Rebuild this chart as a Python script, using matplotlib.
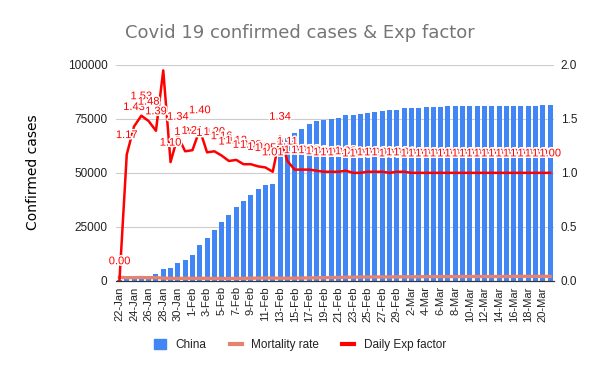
import numpy as np
import pandas as pd
import matplotlib
matplotlib.use("Agg")
import matplotlib.pyplot as plt
import matplotlib.patheffects as pe
from matplotlib.patches import Patch
from matplotlib.lines import Line2D

plt.rcParams['font.family'] = ['Liberation Sans', 'DejaVu Sans']

# ── data (22-Jan .. 21-Mar) ────────────────────────────────
dates = pd.date_range("2020-01-22", "2020-03-21").strftime("%-d-%b").tolist()

china = [548, 643, 920, 1406, 2075, 2877, 5509, 6087, 8141, 9802,
         11891, 16630, 19716, 23707, 27440, 30587, 34110, 36814, 39829, 42354,
         44386, 44759, 59895, 66358, 68413, 70513, 72434, 74211, 74619, 75077,
         75550, 77001, 77022, 77241, 77754, 78166, 78600, 78928, 79356, 79932,
         80136, 80261, 80386, 80537, 80690, 80770, 80823, 80860, 80887, 80921,
         80932, 80945, 80977, 81003, 81033, 81058, 81102, 81156, 81250, 81305]

mortality = [0.031, 0.028, 0.028, 0.030, 0.027, 0.029, 0.024, 0.022, 0.021, 0.022,
             0.022, 0.022, 0.022, 0.021, 0.020, 0.021, 0.021, 0.022, 0.023, 0.024,
             0.025, 0.025, 0.023, 0.023, 0.024, 0.025, 0.026, 0.027, 0.028, 0.030,
             0.030, 0.032, 0.032, 0.034, 0.034, 0.035, 0.035, 0.035, 0.036, 0.036,
             0.036, 0.037, 0.037, 0.037, 0.038, 0.038, 0.038, 0.039, 0.039, 0.039,
             0.039, 0.039, 0.039, 0.039, 0.040, 0.040, 0.040, 0.040, 0.040, 0.040]

exp_factor = [0.00, 1.17, 1.43, 1.53, 1.48, 1.39, 1.95, 1.10, 1.34, 1.20,
              1.21, 1.40, 1.19, 1.20, 1.16, 1.11, 1.12, 1.08, 1.08, 1.06,
              1.05, 1.01, 1.34, 1.11, 1.03, 1.03, 1.03, 1.02, 1.01, 1.01,
              1.01, 1.02, 1.00, 1.00, 1.01, 1.01, 1.01, 1.00, 1.01, 1.01,
              1.00, 1.00, 1.00, 1.00, 1.00, 1.00, 1.00, 1.00, 1.00, 1.00,
              1.00, 1.00, 1.00, 1.00, 1.00, 1.00, 1.00, 1.00, 1.00, 1.00]

left_ticks = [0, 25000, 50000, 75000, 100000]
right_ticks = [0.0, 0.5, 1.0, 1.5, 2.0]

BLUE = "#4285F4"
SALMON = "#E6836F"
RED = "#FF0000"
TXT = "#222222"

x = np.arange(len(dates))

fig = plt.figure(figsize=(6.0, 3.71), dpi=100)
ax = fig.add_axes([0.193, 0.2434, 0.730, 0.5814])
ax2 = ax.twinx()

# 柱状图：确诊人数
ax.bar(x, china, width=0.68, color=BLUE, zorder=2)
ax.set_xlim(-0.5, len(dates) - 0.5)
ax.set_ylim(0, 100000)
ax.set_yticks(left_ticks)
ax.set_yticklabels([str(t) for t in left_ticks])
ax.grid(axis="y", color="#CCCCCC", linewidth=0.8, zorder=0)
ax.set_axisbelow(True)

ax.set_xticks(x[::2])
ax.set_xticklabels(dates[::2], rotation=90)
ax.tick_params(axis="x", length=0, pad=4, labelsize=8, colors=TXT)
ax.tick_params(axis="y", length=0, pad=6, labelsize=8.5, colors=TXT)

# 折线：死亡率 + 每日指数因子（右轴）
ax2.plot(x, mortality, color=SALMON, linewidth=2.4, zorder=3)
ax2.plot(x, exp_factor, color=RED, linewidth=1.8, zorder=4)
ax2.set_ylim(0, 2.0)
ax2.set_yticks(right_ticks)
ax2.set_yticklabels([f"{t:.1f}" for t in right_ticks])
ax2.tick_params(axis="y", length=0, pad=5, labelsize=8.5, colors=TXT)

# 数据标签：超出绘图区顶部的标签不显示（与原图一致）
for i, v in enumerate(exp_factor):
    if v > 1.85:
        continue
    ax2.annotate(f"{v:.2f}", (i, v), xytext=(0, 14), textcoords="offset points",
                 ha="center", va="center", fontsize=8, color=RED, zorder=6,
                 annotation_clip=False,
                 path_effects=[pe.withStroke(linewidth=2.2, foreground="white")])

for a in (ax, ax2):
    for s in ("top", "left", "right"):
        a.spines[s].set_visible(False)
    a.spines["bottom"].set_color("#333333")

fig.text(0.5, 0.911, "Covid 19 confirmed cases & Exp factor", ha="center", va="center",
         fontsize=13, color="#757575", family=["DejaVu Sans"])
fig.text(0.055, 0.535, "Confirmed cases", rotation=90, ha="center", va="center",
         fontsize=10, color="black", family=["DejaVu Sans"])

handles = [Patch(facecolor=BLUE, edgecolor=BLUE),
           Line2D([], [], color=SALMON, linewidth=3),
           Line2D([], [], color=RED, linewidth=3)]
fig.legend(handles, ["China", "Mortality rate", "Daily Exp factor"],
           loc="center", bbox_to_anchor=(0.5, 0.07), ncol=3, frameon=False,
           fontsize=8.5, handlelength=1.0, handleheight=1.0, columnspacing=2.0,
           handletextpad=0.8, labelcolor=TXT)

fig.savefig("out.png", dpi=100)
